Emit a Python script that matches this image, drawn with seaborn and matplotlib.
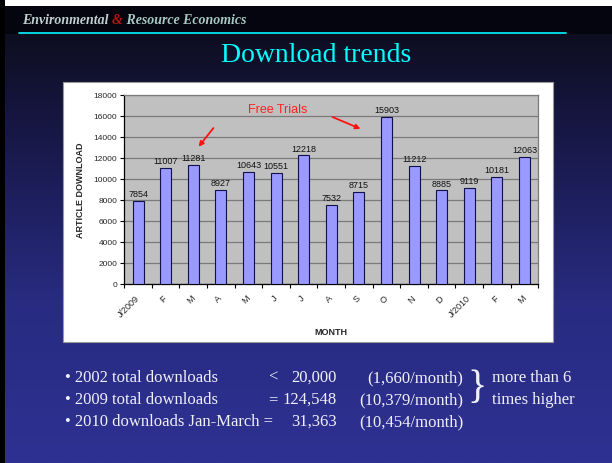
import numpy as np
import pandas as pd
import matplotlib
matplotlib.use("Agg")
import matplotlib.pyplot as plt
import seaborn as sns
from matplotlib.patches import Rectangle
from matplotlib.lines import Line2D

# ---- data ----
month_labels = ['J/2009', 'F', 'M', 'A', 'M', 'J', 'J', 'A', 'S', 'O', 'N', 'D', 'J/2010', 'F', 'M']
downloads = [7854, 11007, 11281, 8927, 10643, 10551, 12218, 7532, 8715, 15903, 11212, 8885, 9119, 10181, 12063]
y_ticks = [0, 2000, 4000, 6000, 8000, 10000, 12000, 14000, 16000, 18000]

summary_rows = ['\u2022 2002 total downloads', '\u2022 2009 total downloads', '\u2022 2010 downloads Jan-March =']
summary_ops = ['<', '=', '']
summary_totals = ['20,000', '124,548', '31,363']
summary_rates = ['(1,660/month)', '(10,379/month)', '(10,454/month)']

W, H = 612, 464
sns.set_theme(style="white")
plt.rcParams['font.family'] = ['Liberation Sans', 'DejaVu Sans']

fig = plt.figure(figsize=(W / 100, H / 100), dpi=100)
renderer = fig.canvas.get_renderer()

def fx(px):
    return px / W

def fy(py):
    return 1 - py / H

# ---- background gradient ----
bg = fig.add_axes([0, 0, 1, 1], zorder=-10)
bg.set_axis_off()
stops_y = np.array([0, 35, 100, 200, 300, 464]) / H
stops_c = np.array([
    [14, 14, 28], [14, 14, 32], [20, 20, 58], [30, 31, 94], [40, 43, 128], [46, 49, 146]
]) / 255.0
yy = np.linspace(0, 1, 400)
grad = np.stack([np.interp(yy, stops_y, stops_c[:, k]) for k in range(3)], axis=-1)
grad = np.repeat(grad[:, None, :], 2, axis=1)
bg.imshow(grad, aspect='auto', extent=[0, 1, 1, 0])
bg.set_xlim(0, 1)
bg.set_ylim(1, 0)
bg.add_patch(Rectangle((0, 7 / H), 1, 28 / H, color='#05050f', lw=0))
bg.add_patch(Rectangle((0, 0), 1, 7 / H, color='white', lw=0))
bg.add_patch(Rectangle((0, 0), 5 / W, 1, color='black', lw=0))
bg.add_line(Line2D([19 / W, 566 / W], [34 / H, 34 / H], color='#00e5f0', lw=1.3))

# header text, chained pieces
hx = 22
for piece, col in [('Environmental ', '#c0d0d0'), ('&', '#c01010'), (' Resource Economics', '#a8c8c4')]:
    t = fig.text(fx(hx), fy(21), piece, family='Liberation Serif', style='italic',
                 weight='bold', fontsize=10, color=col, va='center', ha='left')
    hx += t.get_window_extent(renderer=renderer).width

# title
fig.text(fx(316), fy(56), 'Download trends', family='Liberation Serif', fontsize=20,
         color='#00ffff', ha='center', va='center')

# white chart panel
fig.patches.append(Rectangle((fx(63), fy(343)), fx(553) - fx(63), fy(83) - fy(343),
                             transform=fig.transFigure, facecolor='white',
                             edgecolor='#999999', lw=0.8, zorder=-5))

# ---- chart ----
ax = fig.add_axes([fx(124.3), fy(284.7), fx(538.3) - fx(124.3), fy(95.7) - fy(284.7)])
ax.set_facecolor('#c0c0c0')
df = pd.DataFrame({'slot': list(range(len(downloads))), 'downloads': downloads})
sns.barplot(data=df, x='slot', y='downloads', ax=ax, color='#9999ff', saturation=1,
            width=0.4, edgecolor='#10104a', linewidth=0.8, zorder=3)
ax.bar_label(ax.containers[0], fmt='%d', padding=2, fontsize=6.5, color='#111111')

ax.set_ylim(0, 18000)
ax.set_xlim(-0.5, len(downloads) - 0.5)
ax.set_yticks(y_ticks)
ax.set_yticklabels([str(v) for v in y_ticks], fontsize=6)
ax.yaxis.grid(True, color='#7a7a7a', lw=0.9, zorder=1)
ax.set_axisbelow(True)
ax.tick_params(axis='y', which='major', length=3, width=0.8, color='black', pad=2,
               left=True)

ax.set_xticks(np.arange(len(downloads) + 1) - 0.5)
ax.set_xticklabels([])
ax.tick_params(axis='x', which='major', length=3, width=0.8, color='black', bottom=True)
ax.set_xticks(np.arange(len(downloads)), minor=True)
ax.set_xticklabels(month_labels, minor=True, fontsize=6.5, rotation=45,
                   ha='right', va='center', rotation_mode='anchor')
ax.tick_params(axis='x', which='minor', length=0, pad=9)

ax.set_xlabel('MONTH', fontsize=6.5, weight='bold', labelpad=6)
ax.set_ylabel('ARTICLE DOWNLOAD', fontsize=6.5, weight='bold', labelpad=6)

for s in ['left', 'bottom']:
    ax.spines[s].set_color('black')
    ax.spines[s].set_linewidth(0.9)
for s in ['top', 'right']:
    ax.spines[s].set_color('#7a7a7a')
    ax.spines[s].set_linewidth(0.9)

# annotation
ax.text(5.05, 16650, 'Free Trials', color='#ff2020', fontsize=9, ha='center', va='center')
ax.annotate('', xy=(2.13, 12835), xytext=(2.79, 15027),
            arrowprops=dict(arrowstyle='-|>', color='#ff1010', lw=1.3, mutation_scale=7))
ax.annotate('', xy=(8.15, 14646), xytext=(6.95, 15980),
            arrowprops=dict(arrowstyle='-|>', color='#ff1010', lw=1.3, mutation_scale=7))

# ---- summary text ----
txt_kw = dict(family='Liberation Serif', fontsize=12, color='#f0f0f8', va='center')
rows_y = [378, 400, 422]
for i in range(3):
    fig.text(fx(65), fy(rows_y[i]), summary_rows[i], ha='left', **txt_kw)
    if summary_ops[i]:
        fig.text(fx(268), fy(rows_y[i]), summary_ops[i], ha='left', **txt_kw)
    fig.text(fx(337), fy(rows_y[i]), summary_totals[i], ha='right', **txt_kw)
    fig.text(fx(463), fy(rows_y[i]), summary_rates[i], ha='right', **txt_kw)

fig.text(fx(477), fy(389), '}', family='Liberation Serif', fontsize=29, color='#f0f0f8',
         ha='center', va='center')
fig.text(fx(492), fy(378), 'more than 6', ha='left', **txt_kw)
fig.text(fx(492), fy(400), 'times higher', ha='left', **txt_kw)

fig.savefig('out.png', dpi=100)
